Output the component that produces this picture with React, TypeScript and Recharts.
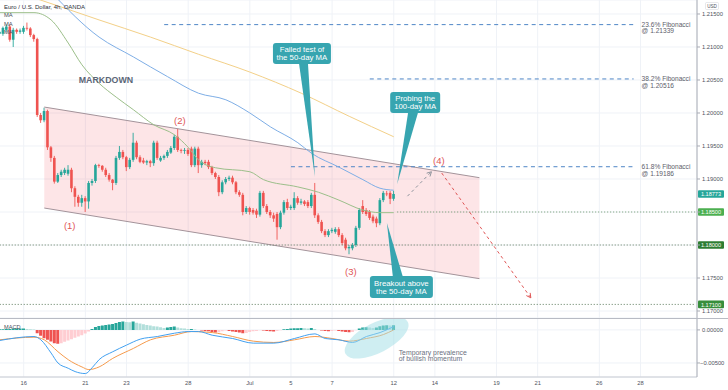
import React from "react";
import {
  ComposedChart,
  Bar,
  Line,
  Area,
  XAxis,
  YAxis,
  CartesianGrid,
  ReferenceLine,
  ReferenceDot,
  Cell,
} from "recharts";

// ---------- data ----------
const FIRST_BAR = -7; // 4h bar index (0 = first bar of 16 Jun)
const LAST_BAR = 196;

const opens = [
  1.2120, 1.2120, 1.2126, 1.2131, 1.2111, 1.2126, 1.2123, 1.2123, 1.2129, 1.2128, 1.2118,
  1.2112, 1.1997, 1.1989, 1.2003, 1.1948, 1.1932, 1.1896, 1.1906, 1.1909, 1.1908,
  1.1914, 1.1886, 1.1873, 1.1864, 1.1871, 1.1866, 1.1894, 1.1897, 1.1921, 1.1920,
  1.1914, 1.1906, 1.1899, 1.1894, 1.1932, 1.1941, 1.1933, 1.1918, 1.1929, 1.1955,
  1.1933, 1.1928, 1.1925, 1.1927, 1.1924, 1.1955, 1.1928, 1.1932, 1.1935, 1.1940,
  1.1947, 1.1964, 1.1944, 1.1943, 1.1944, 1.1946, 1.1921, 1.1946, 1.1921, 1.1926,
  1.1926, 1.1918, 1.1909, 1.1903, 1.1880, 1.1895, 1.1900, 1.1902, 1.1895, 1.1880,
  1.1876, 1.1850, 1.1856, 1.1853, 1.1852, 1.1846, 1.1879, 1.1859, 1.1850, 1.1845,
  1.1847, 1.1827, 1.1849, 1.1865, 1.1856, 1.1856, 1.1871, 1.1864, 1.1866, 1.1865,
  1.1859, 1.1876, 1.1845, 1.1835, 1.1821, 1.1815, 1.1821, 1.1820, 1.1824, 1.1815,
  1.1808, 1.1795, 1.1795, 1.1800, 1.1826, 1.1859, 1.1853, 1.1850, 1.1843, 1.1840,
  1.1833, 1.1868, 1.1878, 1.1879, 1.1870,
];
const highs = [
  1.2126, 1.2131, 1.2134, 1.2134, 1.2129, 1.2128, 1.2128, 1.2132, 1.2137, 1.2130, 1.2120,
  1.2114, 1.2000, 1.2008, 1.2005, 1.1950, 1.1935, 1.1909, 1.1914, 1.1917, 1.1921,
  1.1917, 1.1889, 1.1876, 1.1876, 1.1874, 1.1897, 1.1900, 1.1923, 1.1923, 1.1921,
  1.1917, 1.1909, 1.1900, 1.1935, 1.1950, 1.1944, 1.1935, 1.1932, 1.1970, 1.1958,
  1.1936, 1.1932, 1.1929, 1.1929, 1.1958, 1.1958, 1.1935, 1.1937, 1.1944, 1.1950,
  1.1967, 1.1976, 1.1946, 1.1947, 1.1947, 1.1949, 1.1949, 1.1949, 1.1929, 1.1929,
  1.1929, 1.1920, 1.1911, 1.1906, 1.1898, 1.1903, 1.1905, 1.1905, 1.1897, 1.1883,
  1.1879, 1.1859, 1.1858, 1.1856, 1.1855, 1.1882, 1.1882, 1.1862, 1.1853, 1.1849,
  1.1850, 1.1852, 1.1868, 1.1870, 1.1861, 1.1880, 1.1874, 1.1870, 1.1868, 1.1868,
  1.1879, 1.1894, 1.1848, 1.1838, 1.1824, 1.1824, 1.1826, 1.1827, 1.1827, 1.1818,
  1.1811, 1.1800, 1.1803, 1.1829, 1.1856, 1.1868, 1.1856, 1.1853, 1.1846, 1.1843,
  1.1871, 1.1882, 1.1882, 1.1882, 1.1882,
];
const lows = [
  1.2117, 1.2117, 1.2123, 1.2108, 1.2100, 1.2120, 1.2120, 1.2120, 1.2125, 1.2115, 1.2108,
  1.1994, 1.1985, 1.1986, 1.1944, 1.1926, 1.1893, 1.1894, 1.1903, 1.1906, 1.1905,
  1.1880, 1.1858, 1.1858, 1.1858, 1.1850, 1.1855, 1.1890, 1.1894, 1.1917, 1.1911,
  1.1903, 1.1896, 1.1883, 1.1891, 1.1929, 1.1930, 1.1912, 1.1915, 1.1926, 1.1930,
  1.1924, 1.1923, 1.1921, 1.1918, 1.1920, 1.1929, 1.1926, 1.1929, 1.1932, 1.1938,
  1.1944, 1.1941, 1.1939, 1.1938, 1.1935, 1.1918, 1.1918, 1.1909, 1.1917, 1.1921,
  1.1915, 1.1906, 1.1900, 1.1874, 1.1877, 1.1892, 1.1897, 1.1892, 1.1877, 1.1873,
  1.1845, 1.1847, 1.1846, 1.1846, 1.1841, 1.1843, 1.1856, 1.1847, 1.1841, 1.1835,
  1.1808, 1.1824, 1.1846, 1.1853, 1.1853, 1.1853, 1.1861, 1.1861, 1.1859, 1.1856,
  1.1856, 1.1841, 1.1832, 1.1818, 1.1812, 1.1812, 1.1818, 1.1817, 1.1812, 1.1800,
  1.1792, 1.1786, 1.1792, 1.1797, 1.1823, 1.1847, 1.1844, 1.1838, 1.1833, 1.1827,
  1.1830, 1.1865, 1.1874, 1.1862, 1.1867,
];
const closes = [
  1.2123, 1.2129, 1.2131, 1.2111, 1.2126, 1.2123, 1.2125, 1.2129, 1.2128, 1.2118, 1.2112,
  1.1997, 1.1989, 1.2003, 1.1948, 1.1932, 1.1896, 1.1906, 1.1911, 1.1914, 1.1914,
  1.1886, 1.1873, 1.1864, 1.1871, 1.1866, 1.1894, 1.1897, 1.1921, 1.1920, 1.1914,
  1.1906, 1.1899, 1.1894, 1.1932, 1.1941, 1.1933, 1.1918, 1.1929, 1.1955, 1.1933,
  1.1926, 1.1925, 1.1927, 1.1924, 1.1955, 1.1932, 1.1932, 1.1935, 1.1941, 1.1947,
  1.1964, 1.1944, 1.1943, 1.1944, 1.1938, 1.1921, 1.1946, 1.1921, 1.1926, 1.1924,
  1.1918, 1.1909, 1.1903, 1.1880, 1.1895, 1.1900, 1.1902, 1.1895, 1.1880, 1.1876,
  1.1850, 1.1856, 1.1850, 1.1849, 1.1846, 1.1879, 1.1859, 1.1850, 1.1845, 1.1840,
  1.1827, 1.1849, 1.1865, 1.1856, 1.1858, 1.1871, 1.1864, 1.1866, 1.1862, 1.1859,
  1.1876, 1.1845, 1.1835, 1.1821, 1.1815, 1.1821, 1.1823, 1.1824, 1.1815, 1.1803,
  1.1795, 1.1797, 1.1800, 1.1826, 1.1853, 1.1850, 1.1847, 1.1841, 1.1836, 1.1833,
  1.1868, 1.1879, 1.1877, 1.1870, 1.18773,
];
const macdHist = [
  0.0001, 0.0001, 0.00015, 0.00015, 0.0002, 0.0002, 0.0002, 0.0002, 0.00015, 0.0001, 0.00005,
  -0.0005, -0.0009, -0.00126, -0.0015, -0.00177, -0.002, -0.0021, -0.002, -0.0018, -0.0016,
  -0.0014, -0.0012, -0.001, -0.0008, -0.00055, -0.00025, 0.00015, 0.00045, 0.0006, 0.00065,
  0.00075, 0.0008, 0.0009, 0.00106, 0.0012, 0.00126, 0.0012, 0.00116, 0.00126, 0.0011,
  0.00096, 0.00086, 0.00076, 0.00066, 0.00056, 0.0005, 0.0004, 0.0003, 0.00035, 0.00045,
  0.0005, 0.00035, 0.00025, 0.0002, 0.00015, 0.00015, 0.00005, 0, -0.0001, -0.00015,
  -0.0002, -0.0003, -0.0004, -0.00035, -0.0002, -0.0001, -0.00015, -0.00025, -0.0003, -0.0004,
  -0.0005, -0.00045, -0.0003, -0.0002, -0.00015, -0.00005, -0.0001, -0.00015, -0.0002, -0.00025,
  -0.00015, -0.00005, 0.0001, 0.00015, 0.0002, 0.00025, 0.00025, 0.0003, 0.00025, 0.0002,
  0.0003, 0.00015, 0, -0.0001, -0.00015, -0.0002, -0.00015, -0.0001, -0.00015, -0.00025,
  -0.0003, -0.00035, -0.0003, -0.00005, 0.0002, 0.00035, 0.0004, 0.00035, 0.0003, 0.00035,
  0.00055, 0.00065, 0.0007, 0.00065, 0.0007,
];

// moving averages read at sample bars: [bar, price]
const ma50: [number, number][] = [
  [-7, 1.2152], [3, 1.2152], [8, 1.2141], [13, 1.2106], [17, 1.2073], [22, 1.2045],
  [27, 1.2024], [32, 1.2005], [38, 1.1982], [44, 1.1967], [48, 1.1948], [51, 1.1929],
  [56, 1.1917], [66, 1.1911], [70, 1.1899], [80, 1.1888], [86, 1.188], [92, 1.1868],
  [99, 1.1853], [104, 1.1849], [108, 1.1849],
];
const ma100: [number, number][] = [
  [8, 1.2183], [22, 1.2115], [32, 1.2085], [42, 1.2055], [51, 1.203], [59, 1.202],
  [66, 1.2], [72, 1.1979], [80, 1.1955], [84, 1.1939], [92, 1.1918], [99, 1.1899],
  [104, 1.1886], [108, 1.1883],
];
const ma200: [number, number][] = [
  [-1, 1.2181], [5, 1.2171], [22, 1.2141], [37, 1.2115], [51, 1.2089], [66, 1.2062],
  [81, 1.203], [95, 1.1995], [108, 1.1964],
];
const macdLine: [number, number][] = [
  [-7, -0.0016], [3, -0.001], [5, -0.0015], [8, -0.0035], [10, -0.005], [13, -0.0058],
  [15, -0.0063], [18, -0.0066], [20, -0.0057], [22, -0.0045], [26, -0.0033], [30, -0.0023],
  [34, -0.0014], [39, -0.001], [44, -0.0005], [48, -0.00025], [51, -0.00025], [55, -0.0008],
  [61, -0.0013], [67, -0.002], [73, -0.002], [79, -0.0013], [85, -0.0006], [88, -0.0013],
  [92, -0.0015], [96, -0.0019], [100, -0.001], [104, -0.0004], [108, 0.0005],
];
const signalLine: [number, number][] = [
  [-7, -0.0015], [3, -0.0011], [6, -0.0015], [10, -0.0033], [13, -0.0045], [17, -0.0056],
  [19, -0.006], [22, -0.0056], [26, -0.0043], [32, -0.0028], [37, -0.0015], [44, -0.0008],
  [49, -0.00025], [55, -0.0004], [61, -0.001], [67, -0.0017], [73, -0.0019], [79, -0.0015],
  [85, -0.001], [90, -0.0013], [95, -0.0017], [100, -0.0013], [105, -0.0007], [108, 0],
];
// descending channel: [bar, lower, upper]
const channel: [number, number, number][] = [
  [6, 1.1856, 1.2009],
  [133, 1.1749, 1.1902],
];
const dateTickBars = [0, 18, 30, 48, 66, 78, 90, 108, 120, 138, 150, 168, 180];
const dateTickLabels = ["16", "21", "23", "28", "Jul", "5", "7", "12", "14", "19", "21", "26", "28"];
const priceTicks = [1.17, 1.175, 1.18, 1.185, 1.19, 1.195, 1.2, 1.205, 1.21, 1.215];
const macdTicks = [-0.005, 0];
const fibRatios = ["23.6%", "38.2%", "61.8%"];
const fibPrices = [1.21339, 1.20516, 1.19186];
const fibStartBars = [41, 101, 78];
const fibEndBar = 178;
const supportPrices = [1.185, 1.18, 1.171];
const supportStartBars = [109, FIRST_BAR, FIRST_BAR];
const lastPrice = 1.18773;

// ---------- styling ----------
const FONT = "'Liberation Sans', Arial, sans-serif";
const UP = "#26a69a";
const DOWN = "#ef5350";
const GRID = "#eff2f7";
const AXIS = "#a9acb5";
const TEAL = "#37a5b0";
const NOTE_RED = "#e05656";
const PRICE_DOMAIN: [number, number] = [1.16894, 1.21712];
const MACD_DOMAIN: [number, number] = [-0.00712, 0.0018];

// ---------- build rows ----------
const rows: any[] = [];
for (let b = FIRST_BAR; b <= LAST_BAR; b++) {
  const i = b - FIRST_BAR;
  const r: any = { b };
  if (i < closes.length) {
    r.o = opens[i];
    r.h = highs[i];
    r.l = lows[i];
    r.c = closes[i];
    r.hist = macdHist[i];
  }
  rows.push(r);
}
const put = (pts: [number, number][], key: string) =>
  pts.forEach(([b, v]) => {
    rows[b - FIRST_BAR][key] = v;
  });
put(ma50, "ma50");
put(ma100, "ma100");
put(ma200, "ma200");
put(macdLine, "macd");
put(signalLine, "signal");
channel.forEach(([b, lo, hi]) => {
  rows[b - FIRST_BAR].ch = [lo, hi];
});

const histColor = (i: number) => {
  const v = macdHist[i];
  const p = i > 0 ? macdHist[i - 1] : v;
  if (v >= 0) return v >= p ? "#26a69a" : "#b2dfdb";
  return v < p ? "#ef5350" : "#ffcdd2";
};

// ---------- shapes ----------
const Candle = (props: any) => {
  const { x, y, width, height, payload } = props;
  if (!payload || payload.h == null || x == null) return null;
  const { o, h, l, c } = payload;
  const top = Math.min(y, y + height);
  const hgt = Math.abs(height);
  const k = h - l > 0 ? hgt / (h - l) : 0;
  const color = c >= o ? UP : DOWN;
  const cx = x + width / 2;
  const bodyTop = top + (h - Math.max(o, c)) * k;
  const bodyH = Math.max(0.8, Math.abs(c - o) * k);
  const bw = 2.6;
  return (
    <g>
      <line x1={cx} x2={cx} y1={top} y2={top + hgt} stroke={color} strokeWidth={0.9} />
      <rect x={cx - bw / 2} y={bodyTop} width={bw} height={bodyH} fill={color} />
    </g>
  );
};

const PriceTick = (props: any) => {
  const { x, y, payload } = props;
  const v = payload.value;
  if (Math.abs(v - 1.18) < 1e-6 || Math.abs(v - 1.185) < 1e-6) return null;
  return (
    <text x={x} y={y} dominantBaseline="central" fontSize={5.8} fill="#50535e" fontFamily={FONT}>
      {v.toFixed(5)}
    </text>
  );
};

const MacdTick = (props: any) => {
  const { x, y, payload } = props;
  const v = payload.value;
  const s = v < 0 ? "\u2212" + Math.abs(v).toFixed(5) : v.toFixed(5);
  return (
    <text x={x - (v < 0 ? 2 : 0)} y={y} dominantBaseline="central" fontSize={5.8} fill="#50535e" fontFamily={FONT}>
      {s}
    </text>
  );
};

const DateTick = (props: any) => {
  const { x, y, payload } = props;
  const idx = dateTickBars.indexOf(payload.value);
  return (
    <text x={x} y={y + 8} textAnchor="middle" fontSize={5.8} fill="#50535e" fontFamily={FONT}>
      {idx >= 0 ? dateTickLabels[idx] : ""}
    </text>
  );
};

const PriceTag = ({ viewBox, text, color }: any) => {
  if (!viewBox) return null;
  const x = viewBox.x + viewBox.width + 1;
  const y = viewBox.y;
  return (
    <g>
      <rect x={x} y={y - 3.8} width={26} height={7.6} rx={1} fill={color} />
      <text x={x + 13} y={y + 0.3} textAnchor="middle" dominantBaseline="central" fontSize={5.6} fill="#fff" fontFamily={FONT}>
        {text}
      </text>
    </g>
  );
};

const FibLabel = ({ viewBox, ratio, price }: any) => {
  if (!viewBox) return null;
  const x = viewBox.x + viewBox.width + 8;
  const y = viewBox.y;
  return (
    <g fontSize={6.6} fill="#5d606b" fontFamily={FONT}>
      <text x={x} y={y + 2.4}>{ratio} Fibonacci</text>
      <text x={x} y={y + 8.8}>@ {price.toFixed(5)}</text>
    </g>
  );
};

const TextMark = (props: any) => {
  const { cx, cy, text, dx = 0, color, size, weight } = props;
  return (
    <text x={cx + dx} y={cy} textAnchor="middle" dominantBaseline="central" fontSize={size} fontWeight={weight} fill={color} fontFamily={FONT}>
      {text}
    </text>
  );
};

const Callout = (props: any) => {
  const { cx, cy, dx, dy, w, h, wedge, lines } = props;
  const bx = cx + dx;
  const by = cy + dy;
  const below = dy > 0;
  const baseY = below ? by + 1 : by + h - 1;
  const path = `M${cx + wedge[0]},${baseY} L${cx},${cy} L${cx + wedge[1]},${baseY} Z`;
  return (
    <g>
      <path d={path} fill={TEAL} />
      <rect x={bx} y={by} width={w} height={h} rx={3} fill={TEAL} />
      <text x={bx + w / 2} y={by + h / 2 - 3.6} textAnchor="middle" dominantBaseline="central" fontSize={7.8} fill="#fff" fontFamily={FONT}>
        {lines[0]}
      </text>
      <text x={bx + w / 2} y={by + h / 2 + 4} textAnchor="middle" dominantBaseline="central" fontSize={7.8} fill="#fff" fontFamily={FONT}>
        {lines[1]}
      </text>
    </g>
  );
};

const ArrowHead = (props: any) => {
  const { cx, cy, angle, color } = props;
  const a = (angle * Math.PI) / 180;
  const len = 5;
  const s = (28 * Math.PI) / 180;
  const p1 = [cx - len * Math.cos(a - s), cy - len * Math.sin(a - s)];
  const p2 = [cx - len * Math.cos(a + s), cy - len * Math.sin(a + s)];
  return (
    <path d={`M${p1[0]},${p1[1]} L${cx},${cy} L${p2[0]},${p2[1]}`} stroke={color} strokeWidth={1} fill="none" />
  );
};

const Momentum = (props: any) => {
  const { cx, cy } = props;
  return (
    <g>
      <ellipse cx={cx} cy={cy} rx={35} ry={15} transform={`rotate(-27 ${cx} ${cy})`} fill="#9fdde6" fillOpacity={0.5} />
      <text x={cx + 22} y={cy + 17} fontSize={6.9} fill="#6b7080" fontFamily={FONT}>Temporary prevalence</text>
      <text x={cx + 22} y={cy + 23.6} fontSize={6.9} fill="#6b7080" fontFamily={FONT}>of bullish momentum</text>
    </g>
  );
};

export default function App() {
  return (
    <div style={{ position: "absolute", left: 0, top: 0, width: 728, height: 390, background: "#fff", overflow: "hidden", fontFamily: FONT }}>
      <div style={{ position: "absolute", left: 0, top: 0 }}>
        <ComposedChart width={728} height={318} data={rows} margin={{ top: 0, right: 0, bottom: 0, left: -2 }}>
          <CartesianGrid stroke={GRID} strokeWidth={1} />
          <XAxis dataKey="b" type="category" ticks={dateTickBars} interval={0} hide />
          <YAxis
            orientation="right"
            width={31}
            domain={PRICE_DOMAIN}
            ticks={priceTicks}
            interval={0}
            allowDataOverflow
            tick={<PriceTick />}
            tickSize={3}
            tickMargin={2}
            axisLine={{ stroke: AXIS }}
            tickLine={{ stroke: AXIS }}
          />
          <Area
            dataKey="ch"
            type="linear"
            stroke="none"
            fill="#f23645"
            fillOpacity={0.13}
            connectNulls
            dot={false}
            activeDot={false}
            isAnimationActive={false}
          />
          <ReferenceLine segment={[{ x: channel[0][0], y: channel[0][2] }, { x: channel[1][0], y: channel[1][2] }]} stroke="#a3939a" strokeWidth={1} />
          <ReferenceLine segment={[{ x: channel[0][0], y: channel[0][1] }, { x: channel[1][0], y: channel[1][1] }]} stroke="#a3939a" strokeWidth={1} />
          {fibPrices.map((p, i) => (
            <ReferenceLine
              key={"fib" + i}
              segment={[{ x: fibStartBars[i], y: p }, { x: fibEndBar, y: p }]}
              stroke="#4f86c6"
              strokeDasharray="4 3.5"
              strokeWidth={1}
              label={(lp: any) => <FibLabel {...lp} ratio={fibRatios[i]} price={p} />}
            />
          ))}
          {supportPrices.map((p, i) => (
            <ReferenceLine
              key={"sup" + i}
              segment={[{ x: supportStartBars[i], y: p }, { x: LAST_BAR, y: p }]}
              stroke={i === 0 ? "#6f9a6f" : "#5c7a5c"}
              strokeDasharray="1 2"
              strokeWidth={1}
            />
          ))}
          <Bar dataKey={(d: any) => (d.h != null ? [d.l, d.h] : undefined)} barSize={3} shape={<Candle />} isAnimationActive={false} />
          <Line dataKey="ma200" type="monotone" stroke="#f3d088" strokeWidth={1} dot={false} activeDot={false} connectNulls isAnimationActive={false} />
          <Line dataKey="ma100" type="monotone" stroke="#7eaee6" strokeWidth={1} dot={false} activeDot={false} connectNulls isAnimationActive={false} />
          <Line dataKey="ma50" type="monotone" stroke="#9cbf8a" strokeWidth={1} dot={false} activeDot={false} connectNulls isAnimationActive={false} />
          <ReferenceLine segment={[{ x: 112, y: 1.1874 }, { x: 119, y: 1.1911 }]} stroke="#8e939c" strokeDasharray="3 3" strokeWidth={1} />
          <ReferenceDot x={119} y={1.1911} r={0} shape={(p: any) => <ArrowHead {...p} angle={-45} color="#8e939c" />} />
          <ReferenceLine segment={[{ x: 122, y: 1.1909 }, { x: 148, y: 1.172 }]} stroke={NOTE_RED} strokeDasharray="3 3" strokeWidth={1} />
          <ReferenceDot x={148} y={1.172} r={0} shape={(p: any) => <ArrowHead {...p} angle={54.5} color={NOTE_RED} />} />
          <ReferenceLine y={supportPrices[0]} stroke="none" label={(lp: any) => <PriceTag {...lp} text="1.18500" color="#4caf50" />} />
          <ReferenceLine y={supportPrices[1]} stroke="none" label={(lp: any) => <PriceTag {...lp} text="1.18000" color="#2e7d32" />} />
          <ReferenceLine y={supportPrices[2]} stroke="none" label={(lp: any) => <PriceTag {...lp} text="1.17100" color="#388e3c" />} />
          <ReferenceLine y={lastPrice} stroke="none" label={(lp: any) => <PriceTag {...lp} text="1.18773" color="#26a69a" />} />
          <ReferenceDot x={24} y={1.205} r={0} shape={(p: any) => <TextMark {...p} text="MARKDOWN" color="#5b6677" size={8.8} weight={600} />} />
          <ReferenceDot x={13} y={1.18303} r={0} shape={(p: any) => <TextMark {...p} text="(1)" dx={1.5} color={NOTE_RED} size={9.5} weight={500} />} />
          <ReferenceDot x={46} y={1.19879} r={0} shape={(p: any) => <TextMark {...p} text="(2)" dx={-1.5} color={NOTE_RED} size={9.5} weight={500} />} />
          <ReferenceDot x={95} y={1.17606} r={0} shape={(p: any) => <TextMark {...p} text="(3)" dx={1.7} color={NOTE_RED} size={9.5} weight={500} />} />
          <ReferenceDot x={121} y={1.19273} r={0} shape={(p: any) => <TextMark {...p} text="(4)" dx={0.6} color={NOTE_RED} size={9.5} weight={500} />} />
          <ReferenceDot
            x={85}
            y={1.1903}
            r={0}
            shape={(p: any) => <Callout {...p} dx={-42} dy={-134} w={58} h={21} wedge={[-16, -7]} lines={["Failed test of", "the 50-day MA"]} />}
          />
          <ReferenceDot
            x={109}
            y={1.18924}
            r={0}
            shape={(p: any) => <Callout {...p} dx={-7} dy={-92} w={50} h={21} wedge={[11, 21]} lines={["Probing the", "100-day MA"]} />}
          />
          <ReferenceDot
            x={106}
            y={1.18333}
            r={0}
            shape={(p: any) => <Callout {...p} dx={-17} dy={53} w={63} h={22} wedge={[6, 16]} lines={["Breakout above", "the 50-day MA"]} />}
          />
        </ComposedChart>
      </div>
      <div style={{ position: "absolute", left: 0, top: 318 }}>
        <ComposedChart width={728} height={72} data={rows} margin={{ top: 0, right: 0, bottom: 0, left: -2 }}>
          <CartesianGrid stroke={GRID} strokeWidth={1} />
          <XAxis
            dataKey="b"
            type="category"
            ticks={dateTickBars}
            interval={0}
            height={13}
            tickLine={false}
            tickSize={0}
            tickMargin={0}
            axisLine={{ stroke: "#c8cbd3" }}
            tick={<DateTick />}
          />
          <YAxis
            orientation="right"
            width={31}
            domain={MACD_DOMAIN}
            ticks={macdTicks}
            interval={0}
            allowDataOverflow
            tick={<MacdTick />}
            tickSize={3}
            tickMargin={2}
            axisLine={{ stroke: AXIS }}
            tickLine={{ stroke: AXIS }}
          />
          <ReferenceDot x={103} y={-0.0012} r={0} shape={(p: any) => <Momentum {...p} />} />
          <Bar dataKey="hist" barSize={3} isAnimationActive={false}>
            {rows.map((r, i) => (
              <Cell key={"h" + i} fill={i < macdHist.length ? histColor(i) : "none"} />
            ))}
          </Bar>
          <Line dataKey="signal" type="monotone" stroke="#f59a4c" strokeWidth={1} dot={false} activeDot={false} connectNulls isAnimationActive={false} />
          <Line dataKey="macd" type="monotone" stroke="#42a0f0" strokeWidth={1} dot={false} activeDot={false} connectNulls isAnimationActive={false} />
        </ComposedChart>
      </div>
      <div style={{ position: "absolute", left: 0, top: 317.5, width: 728, height: 1, background: "#b8bbc4" }} />
      <svg width={728} height={390} style={{ position: "absolute", left: 0, top: 0, pointerEvents: "none" }}>
        <text x={4} y={9} fontSize={6} fill="#2a2e39" fontFamily={FONT}>Euro / U.S. Dollar, 4h, OANDA</text>
        <text x={4} y={17} fontSize={5.8} fill="#4a4e5a" fontFamily={FONT}>MA</text>
        <text x={4} y={25.5} fontSize={5.8} fill="#4a4e5a" fontFamily={FONT}>MA</text>
        <text x={4} y={34} fontSize={5.8} fill="#4a4e5a" fontFamily={FONT}>MA</text>
        <rect x={705.5} y={2.5} width={13} height={7} rx={1} fill="#fff" stroke="#d6d8de" strokeWidth={0.6} />
        <text x={712} y={7.8} textAnchor="middle" fontSize={4.6} fill="#50535e" fontFamily={FONT}>USD</text>
        <text x={4} y={328.7} fontSize={5.6} fill="#4a4e5a" fontFamily={FONT}>MACD</text>
      </svg>
    </div>
  );
}
